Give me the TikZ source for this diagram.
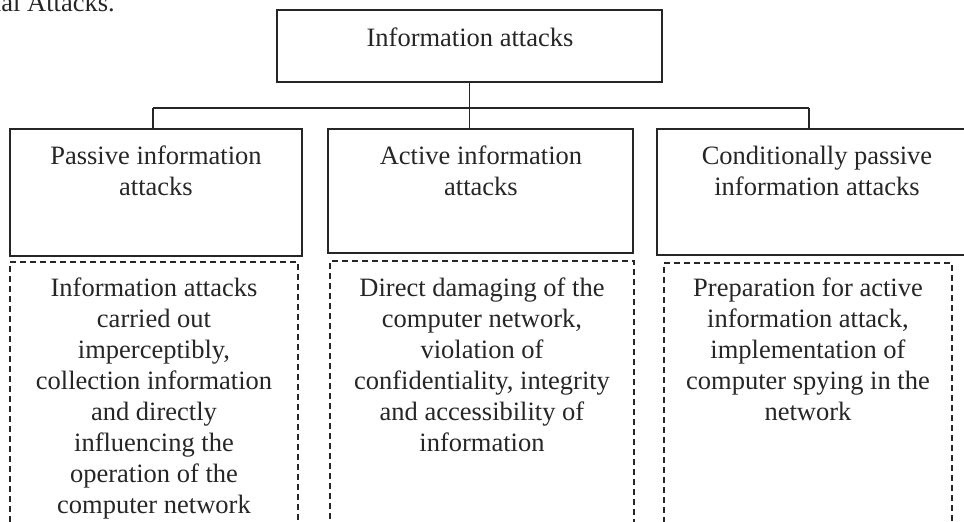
\documentclass[tikz,border=0pt]{standalone}
\usepackage{fontspec}
\setmainfont{Liberation Serif}
\begin{document}
\begin{tikzpicture}[x=1pt,y=-1pt,
  box/.style={draw=black!85, line width=1.6pt, rectangle, inner sep=0pt},
  dbox/.style={draw=black!85, line width=1.5pt, dash pattern=on 6pt off 4pt, rectangle, inner sep=0pt, anchor=north, minimum height=320pt},
  txt/.style={align=center, inner sep=0pt, anchor=base, font=\fontsize{26.5}{31}\selectfont, text=black!85},
  conn/.style={draw=black!85, line width=1.6pt}]
\useasboundingbox (0,0) rectangle (964,522);
\clip (0,0) rectangle (964,522);

\node[txt, anchor=base east] (cap) at (115,12) {ual Attacks.};

% top box
\node[box, minimum width=385pt, minimum height=72pt] (top) at (469.5,46) {};
\node[txt] (toptxt) at (470,46.7) {Information attacks};

% second level (base anchor = last line baseline)
\node[box, minimum width=292pt, minimum height=127pt] (pas) at (156,192.5) {};
\node[box, minimum width=305pt, minimum height=124pt] (act) at (480.5,191) {};
\node[box, minimum width=320pt, minimum height=126pt] (con) at (817,192) {};
\node[txt] (pastxt) at (156,195) {Passive information\\attacks};
\node[txt] (acttxt) at (481,195) {Active information\\attacks};
\node[txt] (contxt) at (817,195) {Conditionally passive\\information attacks};

% dashed description boxes (open at the bottom edge of the picture)
\node[dbox, minimum width=288pt] (pasd) at (154,261) {};
\node[dbox, minimum width=304pt] (actd) at (482,260) {};
\node[dbox, minimum width=288pt] (cond) at (808,262) {};
\node[txt] (pasdtxt) at (154,513) {Information attacks\\carried out\\imperceptibly,\\collection information\\and directly\\influencing the\\operation of the\\computer network};
\node[txt] (actdtxt) at (482,451) {Direct damaging of the\\computer network,\\violation of\\confidentiality, integrity\\and accessibility of\\information};
\node[txt] (condtxt) at (808,420) {Preparation for active\\information attack,\\implementation of\\computer spying in the\\network};

% connectors
\coordinate (jl) at (153,108);
\coordinate (jr) at (809,108);
\draw[conn] (jl) -- (jr);
\draw[conn] (jl) -- (jl |- pas.north);
\draw[conn] (jr) -- (jr |- con.north);
\draw[conn] (top.south) -- (top.south |- act.north);
\end{tikzpicture}
\end{document}
